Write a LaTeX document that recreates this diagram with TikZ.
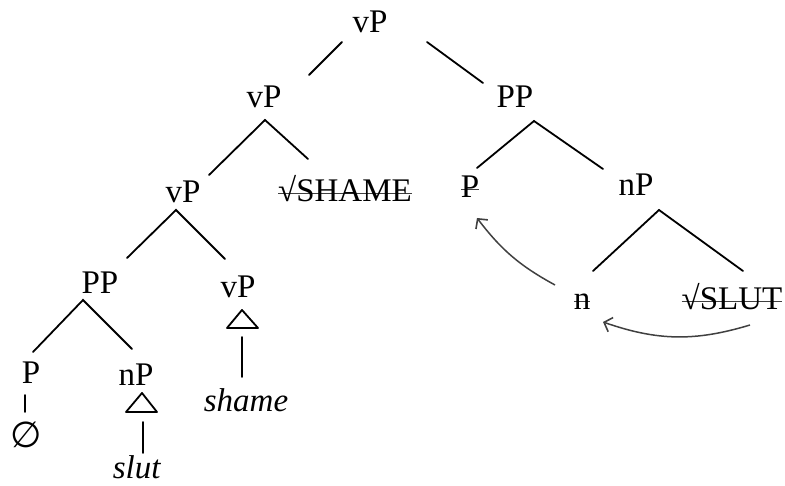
\documentclass[tikz,border=0pt]{standalone}
\usepackage{fontspec}
\setmainfont{Liberation Serif}
\newfontfamily\emptysetfont{DejaVu Sans}
\usepackage{tikz}
\usetikzlibrary{arrows.meta}

% struck-out (deleted) copy
\newcommand{\strikeit}[1]{\setbox0=\hbox{#1}\rlap{\color{black!75}\rule[0.24em]{\wd0}{1.5pt}}\box0}

\tikzset{
  lbl/.style={anchor=base, inner sep=0pt, font=\fontsize{33}{40}\selectfont},
  branch/.style={line width=1.8pt, line cap=round},
  movearrow/.style={line width=1.5pt, black!75, -{Straight Barb[length=7pt,width=15pt,line width=1.6pt]}}
}

\begin{document}
\begin{tikzpicture}[x=1pt,y=1pt]
    \useasboundingbox (0,0) rectangle (785,-486);
    % labels
    \node[lbl] (vPa) at (370,-33) {vP};
    \node[lbl] (vPb) at (264,-108) {vP};
    \node[lbl] (PPb) at (515,-108) {PP};
    \node[lbl] (vPc) at (183,-203) {vP};
    \node[lbl] (rshame) at (345,-202) {\strikeit{√SHAME}};
    \node[lbl] (Pc) at (470,-198) {\strikeit{P}};
    \node[lbl] (nPc) at (636,-196) {nP};
    \node[lbl] (PPd) at (100,-294) {PP};
    \node[lbl] (vPd) at (238,-298) {vP};
    \node[lbl] (nd) at (582,-310) {\strikeit{n}};
    \node[lbl] (rslut) at (732,-310) {\strikeit{√SLUT}};
    \node[lbl] (Pe) at (31,-384) {P};
    \node[lbl] (nPe) at (136,-386) {nP};
    \node[inner sep=0pt, font=\emptysetfont\fontsize{36}{40}\selectfont] (null) at (26,-435) {∅};
    \node[lbl] (slut) at (137,-478) {\textit{slut}};
    \node[lbl] (shame) at (246,-412) {\textit{shame}};
    % branch ends
    \coordinate (vPa-l) at (342,-42);
    \coordinate (vPa-r) at (427,-42);
    \coordinate (vPb-up) at (309,-75);
    \coordinate (PPb-up) at (483,-83);
    \coordinate (vPb-fork) at (265,-120);
    \coordinate (vPc-up) at (209,-175);
    \coordinate (rshame-up) at (308,-159);
    \coordinate (PPb-fork) at (534,-121);
    \coordinate (Pc-up) at (477,-168);
    \coordinate (nPc-up) at (603,-169);
    \coordinate (vPc-fork) at (176,-210);
    \coordinate (PPd-up) at (127,-258);
    \coordinate (vPd-up) at (225,-259);
    \coordinate (nPc-fork) at (659,-210);
    \coordinate (nd-up) at (593,-271);
    \coordinate (rslut-up) at (743,-271);
    \coordinate (PPd-fork) at (83,-300);
    \coordinate (Pe-up) at (33,-352);
    \coordinate (nPe-up) at (132,-349);
    \begin{scope}[branch]
      \draw (vPa-l) -- (vPb-up);
      \draw (vPa-r) -- (PPb-up);
      \draw (vPc-up) -- (vPb-fork) -- (rshame-up);
      \draw (Pc-up) -- (PPb-fork) -- (nPc-up);
      \draw (PPd-up) -- (vPc-fork) -- (vPd-up);
      \draw (nd-up) -- (nPc-fork) -- (rslut-up);
      \draw (Pe-up) -- (PPd-fork) -- (nPe-up);
      % P to null
      \draw (25,-395) coordinate (Pe-dn) -- (25,-412) coordinate (null-up);
      % triangles
      \draw[line join=round] (142,-393) -- (157,-412) -- (126,-412) -- cycle;
      \draw (143,-422) coordinate (nPe-dn) -- (143,-453) coordinate (slut-up);
      \draw[line join=round] (242,-310) -- (258,-328) -- (227,-328) -- cycle;
      \draw (242,-337) coordinate (vPd-dn) -- (242,-377) coordinate (shame-up);
    \end{scope}
    % movement
    \coordinate (nd-from) at (555,-285);
    \coordinate (Pc-to) at (477,-218);
    \coordinate (rslut-from) at (750,-325);
    \coordinate (nd-to) at (603,-322);
    \draw[movearrow] (nd-from) to[bend left=12] (Pc-to);
    \draw[movearrow] (rslut-from) to[bend left=18] (nd-to);
  \end{tikzpicture}
\end{document}
